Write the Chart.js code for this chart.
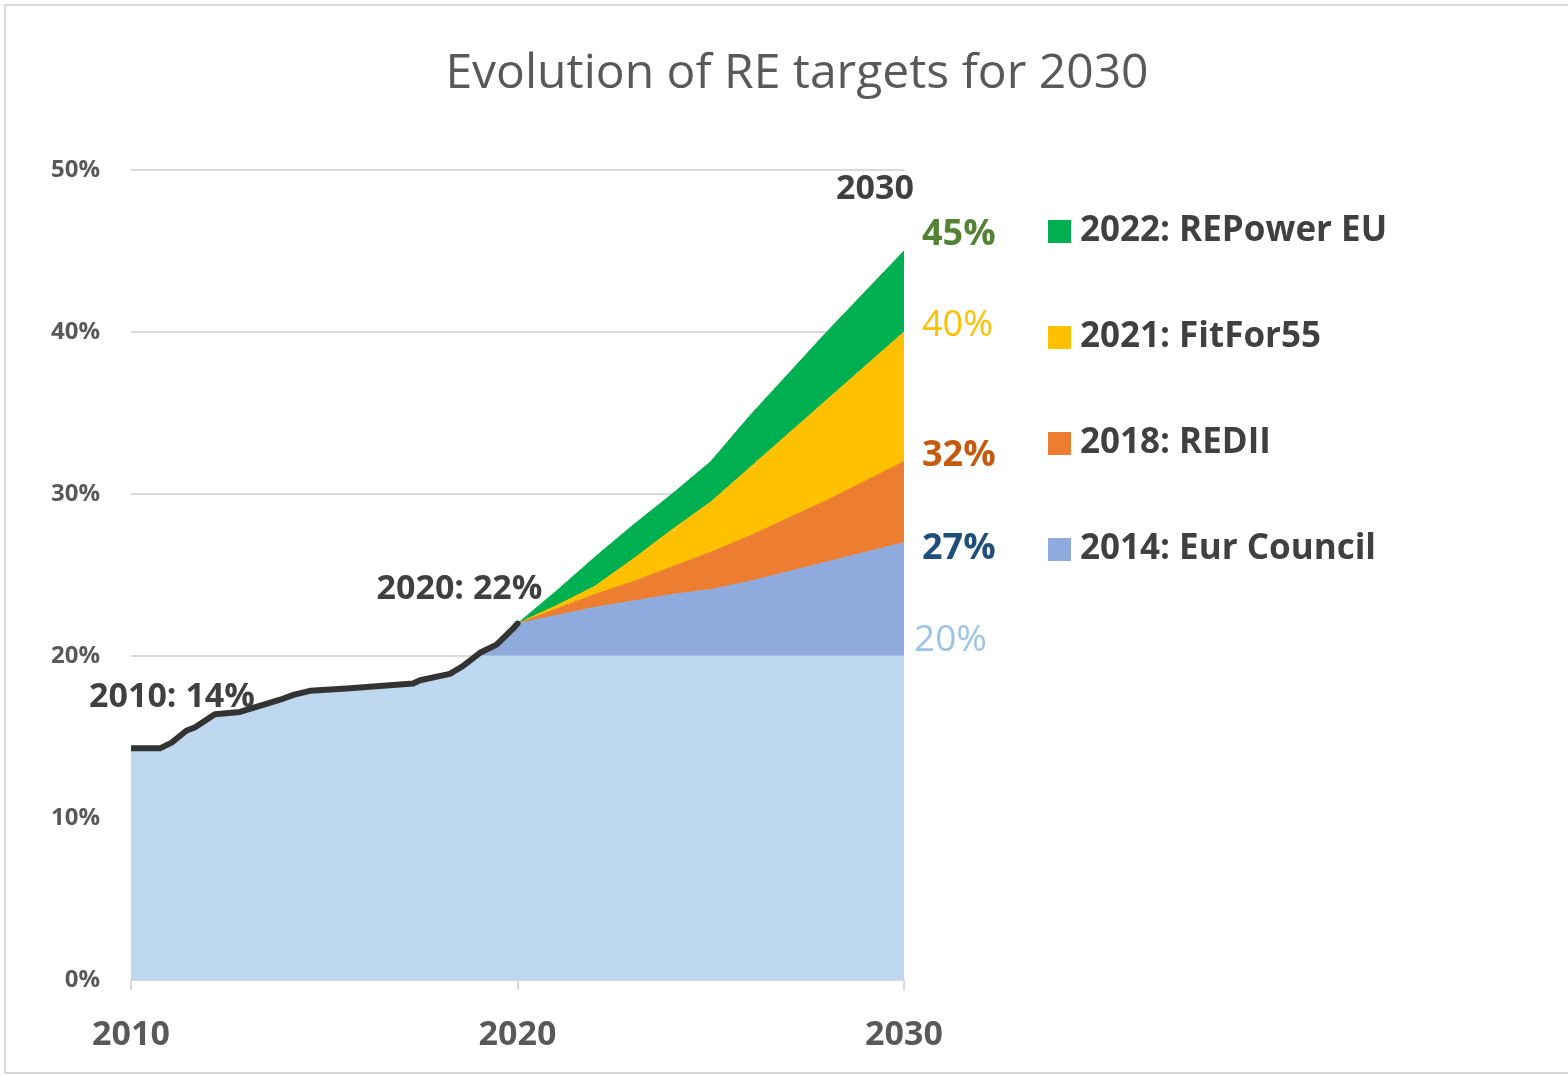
<!DOCTYPE html>
<html>
<head>
<meta charset="utf-8">
<title>Evolution of RE targets for 2030</title>
<script src="https://cdn.jsdelivr.net/npm/chart.js@4.4.1/dist/chart.umd.min.js"></script>
<style>
  html, body { margin: 0; padding: 0; background: #fff; overflow: hidden; }
  #wrap { position: relative; width: 1568px; height: 1076px; }
  #frame {
    position: absolute; left: 4px; top: 4px; width: 1600px; height: 1066px;
    border: 2px solid #d9d9d9; border-right: none; pointer-events: none;
  }
</style>
</head>
<body>
<div id="wrap">
  <canvas id="grafico" width="1568" height="1076"></canvas>
  <div id="frame"></div>
</div>
<script>
// historical RE share (black line)
const histYears = [2010, 2010.75, 2011.05, 2011.44, 2011.66, 2012.17, 2012.82, 2013.86, 2014.2, 2014.63, 2015.58, 2017.3, 2017.48, 2018.25, 2018.6, 2019.03, 2019.46, 2019.89, 2020];
const histShare = [14.3, 14.3, 14.65, 15.4, 15.6, 16.4, 16.55, 17.3, 17.6, 17.85, 18.0, 18.3, 18.5, 18.9, 19.4, 20.2, 20.7, 21.7, 22.0];

// target paths 2020 -> 2030
const targetYears = [2020, 2021, 2022, 2023, 2024, 2025, 2026, 2027, 2028, 2029, 2030];
const eurCouncil  = [22, 22.5, 23.0, 23.4, 23.8, 24.1, 24.6, 25.2, 25.8, 26.4, 27];
const redII       = [22, 22.9, 23.8, 24.6, 25.5, 26.4, 27.4, 28.5, 29.6, 30.8, 32];
const fitFor55    = [22, 23.1, 24.3, 26.0, 27.8, 29.5, 31.6, 33.7, 35.8, 37.9, 40];
const repowerEU   = [22, 24.0, 26.1, 28.1, 30.0, 32.0, 34.8, 37.4, 40.0, 42.5, 45];
const target2020  = 20;

const seriesNames  = ["2014: Eur Council", "2018: REDII", "2021: FitFor55", "2022: REPower EU"];
const seriesColors = ["#8FAADC", "#ED7D31", "#FFC000", "#00B050"];
const valueColors  = ["#1F4E79", "#C55A11", "#FFC000", "#548235"];
const baseColor = "#BDD7EE";

const yTicks = [0, 10, 20, 30, 40, 50];
const xTicks = [2010, 2020, 2030];

const FONTE = "'Open Sans', 'DejaVu Sans', sans-serif";
Chart.defaults.font.family = FONTE;

function pontos(xs, ys) {
    return xs.map((x, i) => ({ x: x, y: ys[i] }));
}

// light blue base: history capped at the 20% target, then the target itself
const basePts = pontos(histYears, histShare.map(v => Math.min(v, target2020)))
    .concat(targetYears.slice(1).map(x => ({ x: x, y: target2020 })));

const histPts = pontos(histYears, histShare);
const eurPts = histPts.concat(pontos(targetYears.slice(1), eurCouncil.slice(1)));

function area(label, data, cor, fill) {
    return {
        label: label,
        data: data,
        backgroundColor: cor,
        borderColor: cor,
        borderWidth: 1,
        pointRadius: 0,
        tension: 0,
        fill: fill,
        order: 1
    };
}

const textos = {
    id: "textos",
    afterDraw(chart) {
        const ctx = chart.ctx;
        const x = chart.scales.x;
        const y = chart.scales.y;
        const area = chart.chartArea;
        ctx.save();

        // title
        ctx.fillStyle = "#595959";
        ctx.font = "48px " + FONTE;
        ctx.textAlign = "center";
        ctx.textBaseline = "middle";
        ctx.fillText("Evolution of RE targets for 2030", 797, 74);

        // annotations
        ctx.fillStyle = "#404040";
        ctx.font = "bold 34px " + FONTE;
        ctx.fillText(histYears[0] + ": " + Math.round(histShare[0]) + "%",
            x.getPixelForValue(histYears[0]) + 41, y.getPixelForValue(histShare[0]) - 51);
        const ult = histShare.length - 1;
        ctx.fillText(histYears[ult] + ": " + Math.round(histShare[ult]) + "%",
            x.getPixelForValue(histYears[ult]) - 58, y.getPixelForValue(histShare[ult]) - 34);
        ctx.fillText(String(targetYears[targetYears.length - 1]),
            x.getPixelForValue(targetYears[targetYears.length - 1]) - 29, area.top + 19);

        // values at 2030
        const fim = targetYears.length - 1;
        const valores = [eurCouncil[fim], redII[fim], fitFor55[fim], repowerEU[fim]];
        const ajusteY = [6, -6, -6, -16];
        const pesos = ["bold", "bold", "normal", "bold"];
        ctx.textAlign = "left";
        valores.forEach((v, i) => {
            ctx.fillStyle = valueColors[i];
            ctx.font = pesos[i] + " 36px " + FONTE;
            ctx.fillText(v + "%", area.right + 18, y.getPixelForValue(v) + ajusteY[i]);
        });
        ctx.fillStyle = "#9DC3E6";
        ctx.font = "37px " + FONTE;
        ctx.fillText(target2020 + "%", area.right + 10, y.getPixelForValue(target2020) - 16);

        // legend (newest first)
        ctx.font = "bold 35px " + FONTE;
        for (let i = 0; i < seriesNames.length; i++) {
            const k = seriesNames.length - 1 - i;
            const cy = area.top + 61 + i * 106;
            ctx.fillStyle = seriesColors[k];
            ctx.fillRect(area.right + 144, cy - 11, 23, 23);
            ctx.fillStyle = "#404040";
            ctx.fillText(seriesNames[k], area.right + 176, cy);
        }
        ctx.restore();
    }
};

new Chart(document.getElementById("grafico").getContext("2d"), {
    type: "line",
    data: {
        datasets: [
            area("2020 target", basePts, baseColor, "origin"),
            area(seriesNames[0], eurPts, seriesColors[0], "-1"),
            area(seriesNames[1], pontos(targetYears, redII), seriesColors[1], "-1"),
            area(seriesNames[2], pontos(targetYears, fitFor55), seriesColors[2], "-1"),
            area(seriesNames[3], pontos(targetYears, repowerEU), seriesColors[3], "-1"),
            {
                label: "History",
                data: histPts,
                borderColor: "#333333",
                borderWidth: 6,
                borderJoinStyle: "round",
                borderCapStyle: "round",
                pointRadius: 0,
                tension: 0,
                fill: false,
                order: 0
            }
        ]
    },
    options: {
        responsive: false,
        animation: false,
        devicePixelRatio: 1,
        layout: { padding: { top: 170, right: 664, bottom: 0, left: 0 } },
        plugins: {
            legend: { display: false },
            title: { display: false },
            tooltip: { enabled: false }
        },
        scales: {
            x: {
                type: "linear",
                min: 2010,
                max: 2030,
                afterBuildTicks: s => { s.ticks = xTicks.map(v => ({ value: v })); },
                afterFit: s => { s.height = 96; },
                ticks: {
                    callback: v => String(v),
                    color: "#595959",
                    font: { size: 34, weight: "bold" },
                    padding: 25,
                    maxRotation: 0
                },
                grid: { drawOnChartArea: false, drawTicks: true, tickLength: 10, color: "#d9d9d9", lineWidth: 2 },
                border: { color: "#d9d9d9", width: 2 }
            },
            y: {
                min: 0,
                max: 50,
                afterBuildTicks: s => { s.ticks = yTicks.map(v => ({ value: v })); },
                afterFit: s => { s.width = 131; },
                ticks: {
                    callback: v => v + "%",
                    color: "#595959",
                    font: { size: 24, weight: "bold" },
                    padding: 31
                },
                grid: { color: "#d9d9d9", lineWidth: 2, drawTicks: false },
                border: { display: false }
            }
        }
    },
    plugins: [textos]
});
</script>
</body>
</html>
